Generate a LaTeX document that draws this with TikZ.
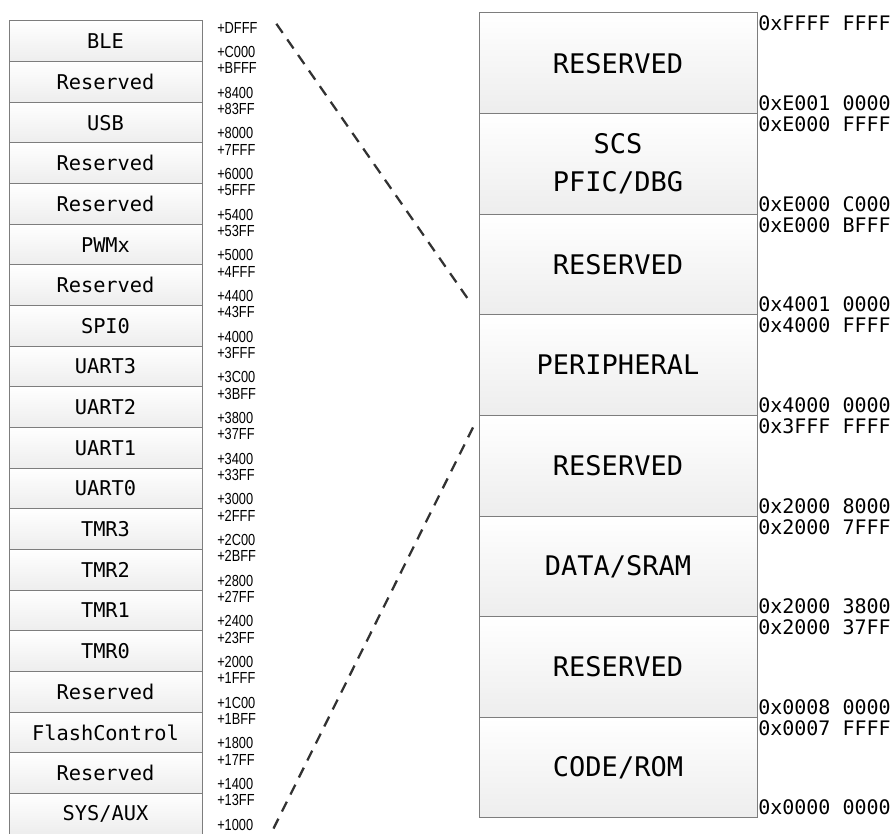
\documentclass[tikz,border=0pt]{standalone}
\usepackage{fontspec}
\usetikzlibrary{positioning}
\newfontfamily\boxfont{DejaVu Sans Mono}
\newfontfamily\addrfont[FakeStretch=0.8]{Liberation Sans}
\definecolor{BoxLine}{RGB}{125,125,125}
\definecolor{DashGray}{RGB}{50,50,50}
\tikzset{
    paddr/.style={
        anchor=base west,
        xshift=11.25pt,
        inner sep=0pt,
        font=\addrfont\fontsize{12}{14}\selectfont
    },
    raddr/.style={
        anchor=base west,
        xshift=0.75pt,
        inner sep=0pt,
        font=\boxfont\fontsize{15}{18}\selectfont
    },
    dashline/.style={
        draw=DashGray,
        line width=1.7pt,
        dash pattern=on 8.25pt off 6pt
    }
}
\newcommand{\pbox}[3]{
    \node(#1)[
        draw=BoxLine,
        line width=0.75pt,
        top color=white,
        bottom color=gray!14,
        minimum width=144.75pt,
        minimum height=30.49pt,
        inner sep=0pt,
        outer sep=0pt,
        font=\boxfont\fontsize{15.25}{18}\selectfont,
        #2
    ]{#3};
}
\newcommand{\rgbox}[3]{
    \node(#1)[
        draw=BoxLine,
        line width=0.75pt,
        top color=white,
        bottom color=gray!14,
        minimum width=208.5pt,
        minimum height=75.45pt,
        inner sep=0pt,
        outer sep=0pt,
        align=center,
        font=\boxfont\fontsize{20.25}{28.5}\selectfont,
        #2
    ]{#3};
}
\newcommand{\prange}[3]{
    \node(#1 hi)[paddr] at ([yshift=-9.25pt]#1.north east) {#2};
    \node(#1 lo)[paddr] at ([yshift=3pt]#1.south east) {#3};
}
\newcommand{\rrange}[3]{
    \node(#1 hi)[raddr] at ([yshift=-13.5pt]#1.north east) {#2};
    \node(#1 lo)[raddr] at ([yshift=2.25pt]#1.south east) {#3};
}

\begin{document}
\begin{tikzpicture}
	\useasboundingbox (0,0) rectangle (672pt,-625.5pt);

	% peripheral blocks
	\pbox{ble}{anchor=north west, at={(6.75pt,-15.75pt)}}{BLE}
	\pbox{res a}{below=0pt of ble}{Reserved}
	\pbox{usb}{below=0pt of res a}{USB}
	\pbox{res b}{below=0pt of usb}{Reserved}
	\pbox{res c}{below=0pt of res b}{Reserved}
	\pbox{pwmx}{below=0pt of res c}{PWMx}
	\pbox{res d}{below=0pt of pwmx}{Reserved}
	\pbox{spi0}{below=0pt of res d}{SPI0}
	\pbox{uart3}{below=0pt of spi0}{UART3}
	\pbox{uart2}{below=0pt of uart3}{UART2}
	\pbox{uart1}{below=0pt of uart2}{UART1}
	\pbox{uart0}{below=0pt of uart1}{UART0}
	\pbox{tmr3}{below=0pt of uart0}{TMR3}
	\pbox{tmr2}{below=0pt of tmr3}{TMR2}
	\pbox{tmr1}{below=0pt of tmr2}{TMR1}
	\pbox{tmr0}{below=0pt of tmr1}{TMR0}
	\pbox{res e}{below=0pt of tmr0}{Reserved}
	\pbox{flash}{below=0pt of res e}{FlashControl}
	\pbox{res f}{below=0pt of flash}{Reserved}
	\pbox{sysaux}{below=0pt of res f}{SYS/AUX}

	\prange{ble}{+DFFF}{+C000}
	\prange{res a}{+BFFF}{+8400}
	\prange{usb}{+83FF}{+8000}
	\prange{res b}{+7FFF}{+6000}
	\prange{res c}{+5FFF}{+5400}
	\prange{pwmx}{+53FF}{+5000}
	\prange{res d}{+4FFF}{+4400}
	\prange{spi0}{+43FF}{+4000}
	\prange{uart3}{+3FFF}{+3C00}
	\prange{uart2}{+3BFF}{+3800}
	\prange{uart1}{+37FF}{+3400}
	\prange{uart0}{+33FF}{+3000}
	\prange{tmr3}{+2FFF}{+2C00}
	\prange{tmr2}{+2BFF}{+2800}
	\prange{tmr1}{+27FF}{+2400}
	\prange{tmr0}{+23FF}{+2000}
	\prange{res e}{+1FFF}{+1C00}
	\prange{flash}{+1BFF}{+1800}
	\prange{res f}{+17FF}{+1400}
	\prange{sysaux}{+13FF}{+1000}

	% memory map
	\rgbox{top res}{anchor=north west, at={(359.25pt,-9.75pt)}}{RESERVED}
	\rgbox{scs}{below=0pt of top res}{SCS\\PFIC/DBG}
	\rgbox{hi res}{below=0pt of scs}{RESERVED}
	\rgbox{peri}{below=0pt of hi res}{PERIPHERAL}
	\rgbox{mid res}{below=0pt of peri}{RESERVED}
	\rgbox{sram}{below=0pt of mid res}{DATA/SRAM}
	\rgbox{low res}{below=0pt of sram}{RESERVED}
	\rgbox{rom}{below=0pt of low res}{CODE/ROM}

	\rrange{top res}{0xFFFF FFFF}{0xE001 0000}
	\rrange{scs}{0xE000 FFFF}{0xE000 C000}
	\rrange{hi res}{0xE000 BFFF}{0x4001 0000}
	\rrange{peri}{0x4000 FFFF}{0x4000 0000}
	\rrange{mid res}{0x3FFF FFFF}{0x2000 8000}
	\rrange{sram}{0x2000 7FFF}{0x2000 3800}
	\rrange{low res}{0x2000 37FF}{0x0008 0000}
	\rrange{rom}{0x0007 FFFF}{0x0000 0000}

	\draw[dashline, shorten >=12pt] ([xshift=14pt, yshift=3pt]ble hi.east) -- (peri.north west);
	\draw[dashline, shorten >=4.5pt] ([xshift=15pt, yshift=-3pt]sysaux lo.east) -- (peri.south west);
\end{tikzpicture}
\end{document}
